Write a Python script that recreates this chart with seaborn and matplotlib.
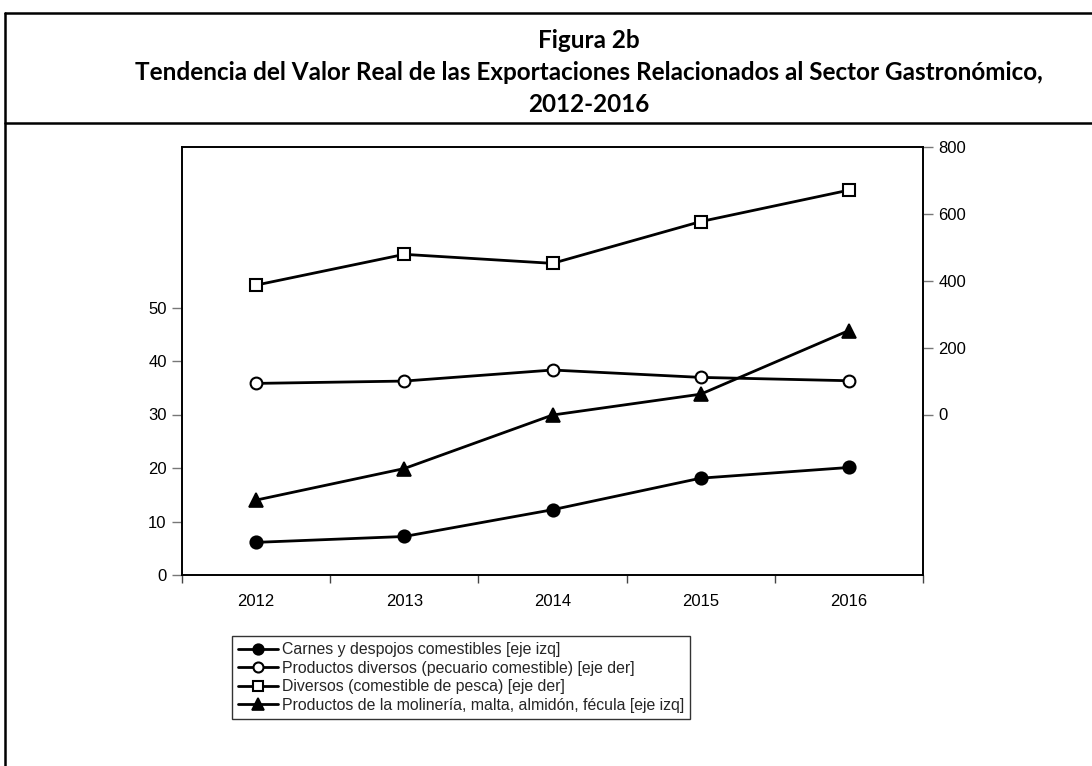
import matplotlib
matplotlib.use('Agg')
import matplotlib.pyplot as plt
import seaborn as sns
from matplotlib.lines import Line2D

# ---- data ----
years = [2012, 2013, 2014, 2015, 2016]
carnes = [6.1, 7.2, 12.2, 18.1, 20.1]          # left axis
pecuario = [93, 100, 133, 111, 101]            # right axis
pesca = [387, 479, 452, 577, 671]              # right axis
molineria = [14.0, 19.9, 29.9, 33.8, 45.7]     # left axis
series_labels = [
    "Carnes y despojos comestibles [eje izq]",
    "Productos diversos (pecuario comestible) [eje der]",
    "Diversos (comestible de pesca) [eje der]",
    "Productos de la molinería, malta, almidón, fécula [eje izq]",
]
left_ticks = [0, 10, 20, 30, 40, 50]
right_ticks = [0, 200, 400, 600, 800]
title_lines = ["Figura 2b",
               "Tendencia del Valor Real de las Exportaciones Relacionados al Sector Gastronómico,",
               "2012-2016"]

sns.set_theme(style="white")
plt.rcParams['font.family'] = ['Liberation Sans', 'DejaVu Sans']

W, H = 1092, 766
fig = plt.figure(figsize=(W / 100, H / 100), dpi=100)
fig.patch.set_facecolor('white')

def fx(px):
    return px / W

def fy(py):
    return 1 - py / H

ax = fig.add_axes([fx(182), fy(575), fx(923) - fx(182), fy(147) - fy(575)])
ax2 = ax.twinx()

lw = 2.0
common = dict(color='black', linewidth=lw, legend=False)
sns.lineplot(x=years, y=carnes, ax=ax, marker='o', markersize=9,
             markerfacecolor='black', markeredgecolor='black', markeredgewidth=1.2, **common)
h_carnes = ax.lines[-1]
sns.lineplot(x=years, y=molineria, ax=ax, marker='^', markersize=10,
             markerfacecolor='black', markeredgecolor='black', markeredgewidth=1.2, **common)
h_mol = ax.lines[-1]
sns.lineplot(x=years, y=pecuario, ax=ax2, marker='o', markersize=8.5,
             markerfacecolor='white', markeredgecolor='black', markeredgewidth=1.5, **common)
h_pec = ax2.lines[-1]
sns.lineplot(x=years, y=pesca, ax=ax2, marker='s', markersize=8.5,
             markerfacecolor='white', markeredgecolor='black', markeredgewidth=1.5, **common)
h_pes = ax2.lines[-1]

# axes ranges & ticks
ax.set_xlim(years[0] - 0.5, years[-1] + 0.5)
ax.set_ylim(0, 80)
ax2.set_ylim(-480, 800)
bounds = [y - 0.5 for y in years] + [years[-1] + 0.5]
ax.set_xticks(bounds)
ax.set_xticklabels([''] * len(bounds))
ax.set_xticks(years, minor=True)
ax.set_xticklabels([str(y) for y in years], minor=True)
ax.set_yticks(left_ticks)
ax.set_yticklabels([str(t) for t in left_ticks])
ax2.set_yticks(right_ticks)
ax2.set_yticklabels([str(t) for t in right_ticks])
ax.set_xlabel('')
ax.set_ylabel('')
ax2.set_ylabel('')

ax.tick_params(axis='x', which='major', direction='out', length=6, width=1, color='#444444', bottom=True)
ax.tick_params(axis='x', which='minor', length=0, labelsize=12, pad=14, labelcolor='black')
ax.tick_params(axis='y', direction='out', length=7, width=1, color='#777777', left=True,
               labelsize=12, pad=4, labelcolor='black')
ax2.tick_params(axis='y', direction='out', length=7, width=1, color='#777777', right=True,
                labelsize=12, pad=4, labelcolor='black')
for a in (ax, ax2):
    for s in a.spines.values():
        s.set_visible(True)
        s.set_color('black')
        s.set_linewidth(1.2)
    a.grid(False)
    a.set_facecolor('none')

# legend
leg = fig.legend([h_carnes, h_pec, h_pes, h_mol], series_labels,
                 loc='upper left', bbox_to_anchor=(fx(232), fy(636)),
                 fontsize=11.4, frameon=True, fancybox=False, shadow=False,
                 handlelength=2.5, handletextpad=0.25, labelspacing=0.22,
                 borderpad=0.4, borderaxespad=0, markerscale=0.85)
leg.get_frame().set_edgecolor('black')
leg.get_frame().set_linewidth(1.0)

# titles
ty = [40, 72, 104]
for t, y in zip(title_lines, ty):
    fig.text(fx(589), fy(y), t, ha='center', va='center', fontsize=17.5,
             fontweight='bold', family=['Lato', 'DejaVu Sans'], color='black')

# outer frame (right side runs past the picture) & separator
frame = dict(transform=fig.transFigure, color='black', linewidth=1.8)
fig.add_artist(Line2D([fx(5), fx(5)], [fy(13), fy(766)], **frame))
fig.add_artist(Line2D([fx(5), 1.0], [fy(13), fy(13)], **frame))
fig.add_artist(Line2D([fx(5), 1.0], [fy(123), fy(123)], **frame))

fig.savefig('out.png', dpi=100, facecolor='white')
